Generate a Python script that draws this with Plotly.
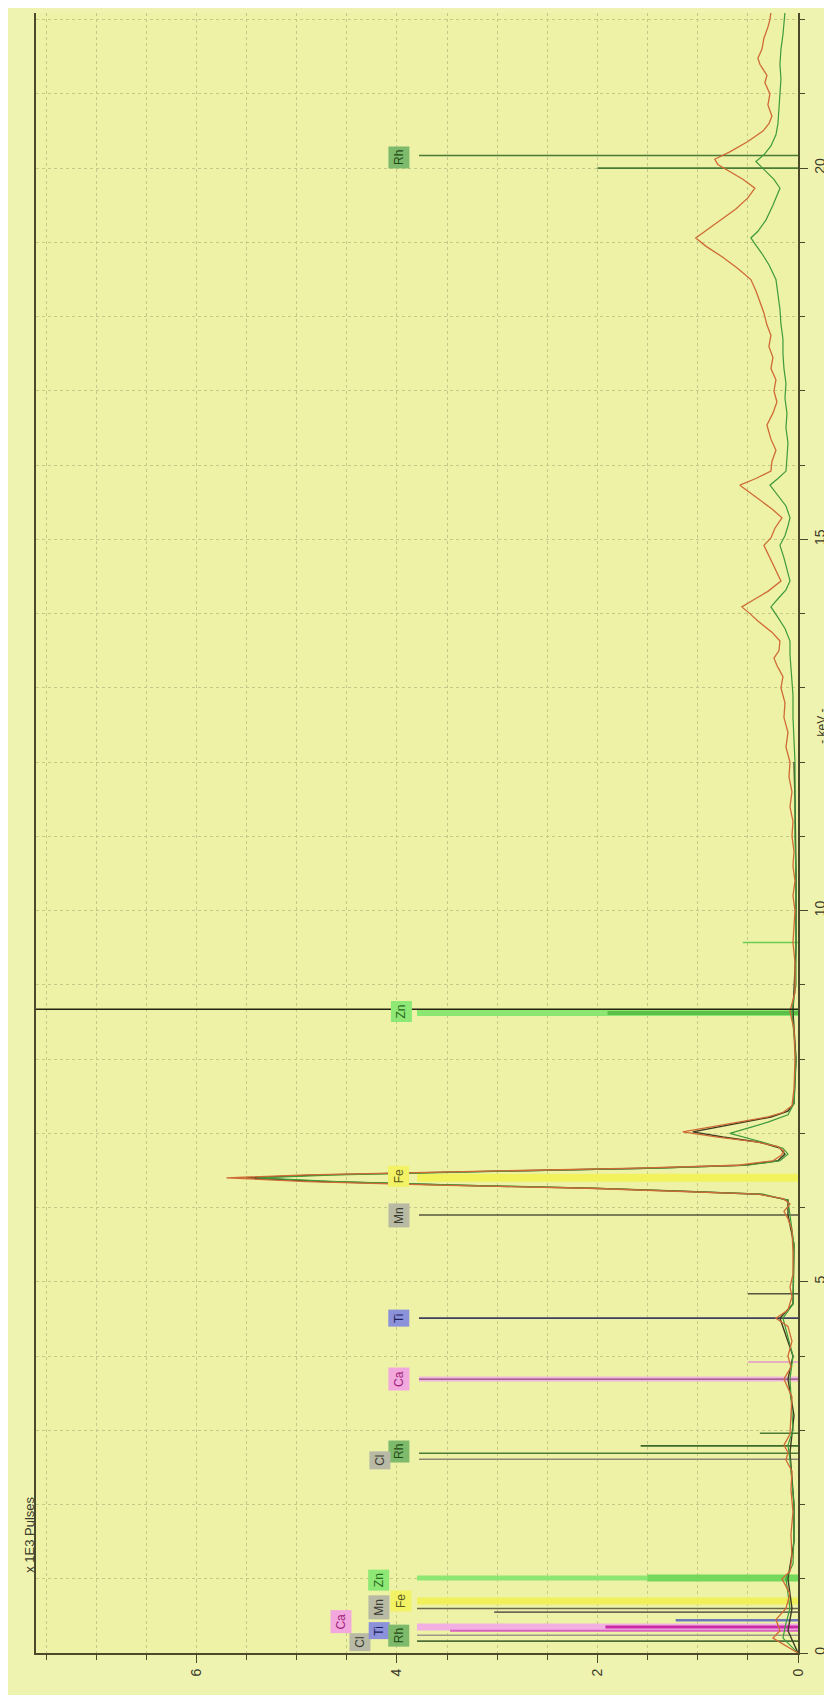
import plotly.graph_objects as go

# ---------------- data ----------------
# spectrum 1 (orange-brown)
orange_kev = [0.0, 0.1, 0.2, 0.3, 0.45, 0.6, 0.8, 1.0, 1.1, 1.3, 1.6, 1.9, 2.2, 2.45, 2.6, 2.7, 2.8, 2.95,
              3.2, 3.45, 3.69, 3.85, 4.0, 4.2, 4.4, 4.51, 4.62, 4.8, 4.93, 5.1, 5.4, 5.7, 5.85, 5.95, 6.05,
              6.12, 6.18, 6.22, 6.26, 6.30, 6.35, 6.40, 6.44, 6.49, 6.53, 6.57, 6.63, 6.70, 6.76, 6.82, 6.88,
              6.95, 7.02, 7.09, 7.16, 7.22, 7.28, 7.37, 7.6, 8.0, 8.4, 8.64, 8.9, 9.3, 9.57,
              10.0, 10.2, 10.4, 10.6, 10.8, 11.0, 11.2, 11.4, 11.6, 11.8, 12.0, 12.2, 12.4, 12.6, 12.8,
              13.0, 13.15, 13.3, 13.4, 13.5, 13.63, 13.75, 13.9, 14.0, 14.09, 14.18, 14.3, 14.44, 14.55,
              14.7, 14.8, 14.92, 15.02, 15.15, 15.29, 15.4, 15.55, 15.65, 15.73, 15.82, 15.92, 16.05,
              16.2, 16.35, 16.54, 16.7, 16.85, 17.0, 17.15, 17.3, 17.45, 17.6, 17.75, 17.89, 18.05, 18.2,
              18.35, 18.5, 18.65, 18.8, 18.95, 19.06, 19.18, 19.3, 19.45, 19.6, 19.73, 19.85, 19.95,
              20.05, 20.12, 20.22, 20.36, 20.5, 20.6, 20.7, 20.85, 21.0, 21.15, 21.25, 21.4, 21.48, 21.6,
              21.75, 21.9, 22.0, 22.1]
orange_pulses = [0.0, 0.12, 0.25, 0.18, 0.22, 0.12, 0.08, 0.16, 0.08, 0.06, 0.07, 0.05, 0.07, 0.06, 0.12,
                 0.1, 0.14, 0.08, 0.07, 0.06, 0.14, 0.07, 0.1, 0.06, 0.1, 0.22, 0.1, 0.06, 0.08, 0.05, 0.05,
                 0.06, 0.1, 0.14, 0.08, 0.15, 0.4, 1.2, 2.1, 3.5, 4.9, 5.7, 4.9, 3.1, 1.6, 0.6, 0.25, 0.17,
                 0.14, 0.2, 0.4, 0.8, 1.15, 0.85, 0.55, 0.3, 0.15, 0.06, 0.04, 0.03, 0.04, 0.08, 0.03, 0.03,
                 0.05,
                 0.03, 0.05, 0.03, 0.05, 0.04, 0.06, 0.05, 0.08, 0.06, 0.09, 0.08, 0.12, 0.10, 0.14, 0.13,
                 0.17, 0.15, 0.21, 0.24, 0.19, 0.18, 0.26, 0.40, 0.48, 0.56, 0.45, 0.30, 0.17, 0.21,
                 0.26, 0.30, 0.34, 0.27, 0.23, 0.16, 0.25, 0.40, 0.50, 0.58, 0.42, 0.27, 0.26,
                 0.22, 0.27, 0.31, 0.25, 0.21, 0.24, 0.22, 0.27, 0.25, 0.29, 0.27, 0.31, 0.34, 0.38,
                 0.42, 0.47, 0.60, 0.75, 0.92, 1.02, 0.90, 0.78, 0.62, 0.50, 0.43, 0.55, 0.68,
                 0.80, 0.83, 0.68, 0.50, 0.35, 0.29, 0.26, 0.30, 0.28, 0.33, 0.31, 0.38, 0.40, 0.36,
                 0.34, 0.30, 0.28, 0.27]

# spectrum 2 (green)
green_kev = [0.0, 0.2, 0.4, 0.6, 1.0, 1.2, 1.6, 2.0, 2.6, 2.8, 3.0, 3.69, 4.0, 4.51, 4.7, 5.5, 5.9, 6.1,
             6.18, 6.22, 6.26, 6.30, 6.35, 6.40, 6.44, 6.49, 6.53, 6.57, 6.63, 6.72, 6.80, 6.88, 6.95, 7.0,
             7.07, 7.15, 7.25, 7.4, 8.0, 8.64, 9.0,
             10.0, 10.5, 11.0, 11.5, 12.0, 12.3, 12.6, 12.9, 13.2, 13.45, 13.63, 13.8, 13.95, 14.09, 14.2,
             14.32, 14.44, 14.6, 14.75, 14.92, 15.05, 15.18, 15.29, 15.45, 15.6, 15.73, 15.82, 15.92,
             16.1, 16.3, 16.5, 16.7, 16.9, 17.1, 17.3, 17.5, 17.7, 17.9, 18.1, 18.3, 18.5, 18.7, 18.85,
             19.0, 19.06, 19.15, 19.3, 19.5, 19.65, 19.73, 19.85, 19.97, 20.09, 20.18, 20.3, 20.45, 20.6,
             20.8, 21.0, 21.2, 21.4, 21.6, 21.8, 22.0, 22.1]
green_pulses = [0.0, 0.15, 0.12, 0.08, 0.12, 0.05, 0.04, 0.04, 0.08, 0.1, 0.05, 0.08, 0.05, 0.15, 0.05,
                0.04, 0.08, 0.1, 0.35, 1.1, 2.0, 3.3, 4.6, 5.4, 4.6, 2.9, 1.4, 0.5, 0.18, 0.1, 0.15, 0.35,
                0.55, 0.68, 0.5, 0.3, 0.1, 0.04, 0.02, 0.06, 0.02,
                0.02, 0.02, 0.03, 0.03, 0.03, 0.04, 0.05, 0.05, 0.07, 0.08, 0.08, 0.13, 0.20, 0.27, 0.20,
                0.12, 0.08, 0.11, 0.14, 0.18, 0.13, 0.10, 0.08, 0.12, 0.21, 0.28, 0.20, 0.12,
                0.11, 0.10, 0.12, 0.11, 0.13, 0.12, 0.14, 0.15, 0.15, 0.17, 0.18, 0.20, 0.22, 0.29, 0.36,
                0.44, 0.47, 0.40, 0.32, 0.25, 0.20, 0.18, 0.24, 0.33, 0.42, 0.34, 0.27, 0.22, 0.20,
                0.19, 0.18, 0.17, 0.18, 0.17, 0.15, 0.14, 0.13]

# spectrum 3 (dark olive, low-energy part)
dark_kev = [0.0, 0.3, 0.6, 1.0, 1.5, 2.0, 2.7, 3.2, 3.69, 4.0, 4.51, 4.7, 5.5, 5.9, 6.1, 6.18, 6.22, 6.26,
            6.30, 6.35, 6.40, 6.44, 6.49, 6.53, 6.57, 6.63, 6.72, 6.80, 6.88, 6.95, 7.02, 7.09, 7.16, 7.22,
            7.30, 7.40, 8.0, 8.64, 9.5, 10.5, 11.5, 12.0]
dark_pulses = [0.0, 0.1, 0.06, 0.1, 0.04, 0.04, 0.08, 0.04, 0.1, 0.05, 0.18, 0.05, 0.04, 0.1, 0.1, 0.38,
               1.15, 2.05, 3.4, 4.75, 5.5, 4.75, 3.0, 1.5, 0.55, 0.2, 0.13, 0.18, 0.38, 0.75, 1.05, 0.78,
               0.5, 0.27, 0.1, 0.04, 0.02, 0.05, 0.02, 0.02, 0.03, 0.04]

# element marker lines: energy (keV), line height (x 1E3 pulses), colour, width
marker_kev = [20.17, 20.0, 9.57, 8.62, 8.62, 6.40, 5.90, 4.84, 4.51, 3.92, 3.69, 3.69,
              2.96, 2.79, 2.69, 2.61, 1.01, 1.01, 0.70, 0.60, 0.55, 0.44, 0.35, 0.35, 0.30, 0.24, 0.16]
marker_top = [3.78, 2.0, 0.55, 3.8, 1.9, 3.8, 3.78, 0.5, 3.78, 0.5, 3.78, 3.78,
              0.38, 1.57, 3.78, 3.78, 3.8, 1.5, 3.8, 3.8, 3.03, 1.22, 3.8, 1.92, 3.47, 3.8, 3.8]
marker_color = ["#4A7A34", "#4A7A34", "#6CCB52", "#8CE672", "#5CC048", "#F2F25C", "#55553F", "#55553F",
                "#3E3E5E", "#E39ACB", "#F2B6DE", "#8A4A78",
                "#4A7A34", "#3E6A2A", "#4A7A34", "#8A8A74", "#8CE672", "#74D85A", "#F0F05A", "#6A6A4A",
                "#6A6A58", "#6C78B8", "#F2B0E2", "#C82AA8", "#D860C0", "#9A9A88", "#4E6E38"]
marker_width = [1.6, 1.6, 1.5, 6, 4, 8, 1.6, 1.5, 1.6, 1.5, 5, 1.2,
                1.5, 1.8, 1.6, 1.6, 5, 7, 7, 1.6, 1.6, 2.5, 7, 3, 2, 1.6, 1.6]

cursor_kev = 8.67

# label boxes
label_text = ["Rh", "Zn", "Fe", "Mn", "Ti", "Ca", "Rh", "Cl",
              "Ca", "Cl", "Ti", "Mn", "Zn", "Fe", "Rh"]
label_kev = [20.15, 8.64, 6.42, 5.90, 4.51, 3.69, 2.72, 2.60,
             0.42, 0.15, 0.30, 0.62, 0.98, 0.70, 0.24]
label_pulse = [3.98, 3.96, 3.98, 3.98, 3.98, 3.98, 3.98, 4.17,
               4.56, 4.37, 4.18, 4.18, 4.18, 3.96, 3.98]
label_bg = ["#7EBA6C", "#8EE876", "#F2F264", "#B8BAA4", "#8C92DA", "#F2A8DC", "#7EBA6C", "#B8BAA6",
            "#F2A8DC", "#B8BAA6", "#8C92DA", "#B8BAA4", "#8EE876", "#F2F264", "#7EBA6C"]
label_fg = ["#1E4A14", "#2D6B1F", "#5A5A20", "#3A3A30", "#20205A", "#A0207A", "#1E4A14", "#3A3A30",
            "#A0207A", "#3A3A30", "#20205A", "#3A3A30", "#2D6B1F", "#5A5A20", "#1E4A14"]

pulse_ticks = [0, 2, 4, 6]
kev_ticks = [0, 5, 10, 15, 20]
pulse_range = [7.6, 0]
kev_range = [0, 22.09]

# ---------------- figure ----------------
fig = go.Figure()

for e, top, c, w in zip(marker_kev, marker_top, marker_color, marker_width):
    fig.add_trace(go.Scatter(x=[0, top], y=[e, e], mode="lines",
                             line=dict(color=c, width=w), hoverinfo="skip", showlegend=False))

fig.add_trace(go.Scatter(x=dark_pulses, y=dark_kev, mode="lines",
                         line=dict(color="#3C3C22", width=1.4), showlegend=False))
fig.add_trace(go.Scatter(x=green_pulses, y=green_kev, mode="lines",
                         line=dict(color="#3E9A3A", width=1.2), showlegend=False))
fig.add_trace(go.Scatter(x=orange_pulses, y=orange_kev, mode="lines",
                         line=dict(color="#CF6A35", width=1.3), showlegend=False))

fig.add_trace(go.Scatter(x=[0, pulse_range[0]], y=[cursor_kev, cursor_kev], mode="lines",
                         line=dict(color="#23230F", width=1.4), hoverinfo="skip", showlegend=False))

for t, e, p, bg, fg in zip(label_text, label_kev, label_pulse, label_bg, label_fg):
    fig.add_annotation(x=p, y=e, xref="x", yref="y", text=t, textangle=-90, showarrow=False,
                       bgcolor=bg, borderpad=3,
                       font=dict(family="Liberation Sans, Arial, sans-serif", size=12, color=fg))

fig.add_annotation(x=-0.008, y=0.072, xref="paper", yref="paper", text="x 1E3 Pulses", textangle=-90,
                   showarrow=False, xanchor="center", yanchor="middle",
                   font=dict(family="Liberation Sans, Arial, sans-serif", size=13, color="#3A3A2A"))
fig.add_annotation(x=1.032, y=0.565, xref="paper", yref="paper", text="- keV -", textangle=-90,
                   showarrow=False, xanchor="center", yanchor="middle",
                   font=dict(family="Liberation Sans, Arial, sans-serif", size=12, color="#3A3A2A"))

grid_col = "#C4C888"
tick_font = dict(family="Liberation Sans, Arial, sans-serif", size=14, color="#3A3A2A")

fig.update_layout(
    width=832, height=1695,
    margin=dict(l=28, r=42, t=5, b=50),
    paper_bgcolor="#EFF3B0",
    plot_bgcolor="#EDF2A7",
    xaxis=dict(range=pulse_range, tickvals=pulse_ticks, tickangle=-90, tickfont=tick_font,
               showline=True, linecolor="#4A4A2A", linewidth=2, ticks="outside", ticklen=8,
               tickcolor="#4A4A2A", zeroline=False,
               showgrid=True, gridcolor=grid_col, griddash="dot", gridwidth=1,
               minor=dict(dtick=0.5, ticks="outside", ticklen=5, tickcolor="#4A4A2A",
                          showgrid=True, gridcolor=grid_col, griddash="dot", gridwidth=1)),
    yaxis=dict(range=kev_range, side="right", tickvals=kev_ticks, tickangle=-90, tickfont=tick_font,
               showline=True, mirror=True, linecolor="#4A4A2A", linewidth=2, ticks="outside",
               ticklen=8, tickcolor="#4A4A2A", zeroline=False,
               showgrid=True, gridcolor=grid_col, griddash="dot", gridwidth=1,
               minor=dict(dtick=1, ticks="outside", ticklen=5, tickcolor="#4A4A2A",
                          showgrid=True, gridcolor=grid_col, griddash="dot", gridwidth=1)),
)

fig.write_html("out.html")
